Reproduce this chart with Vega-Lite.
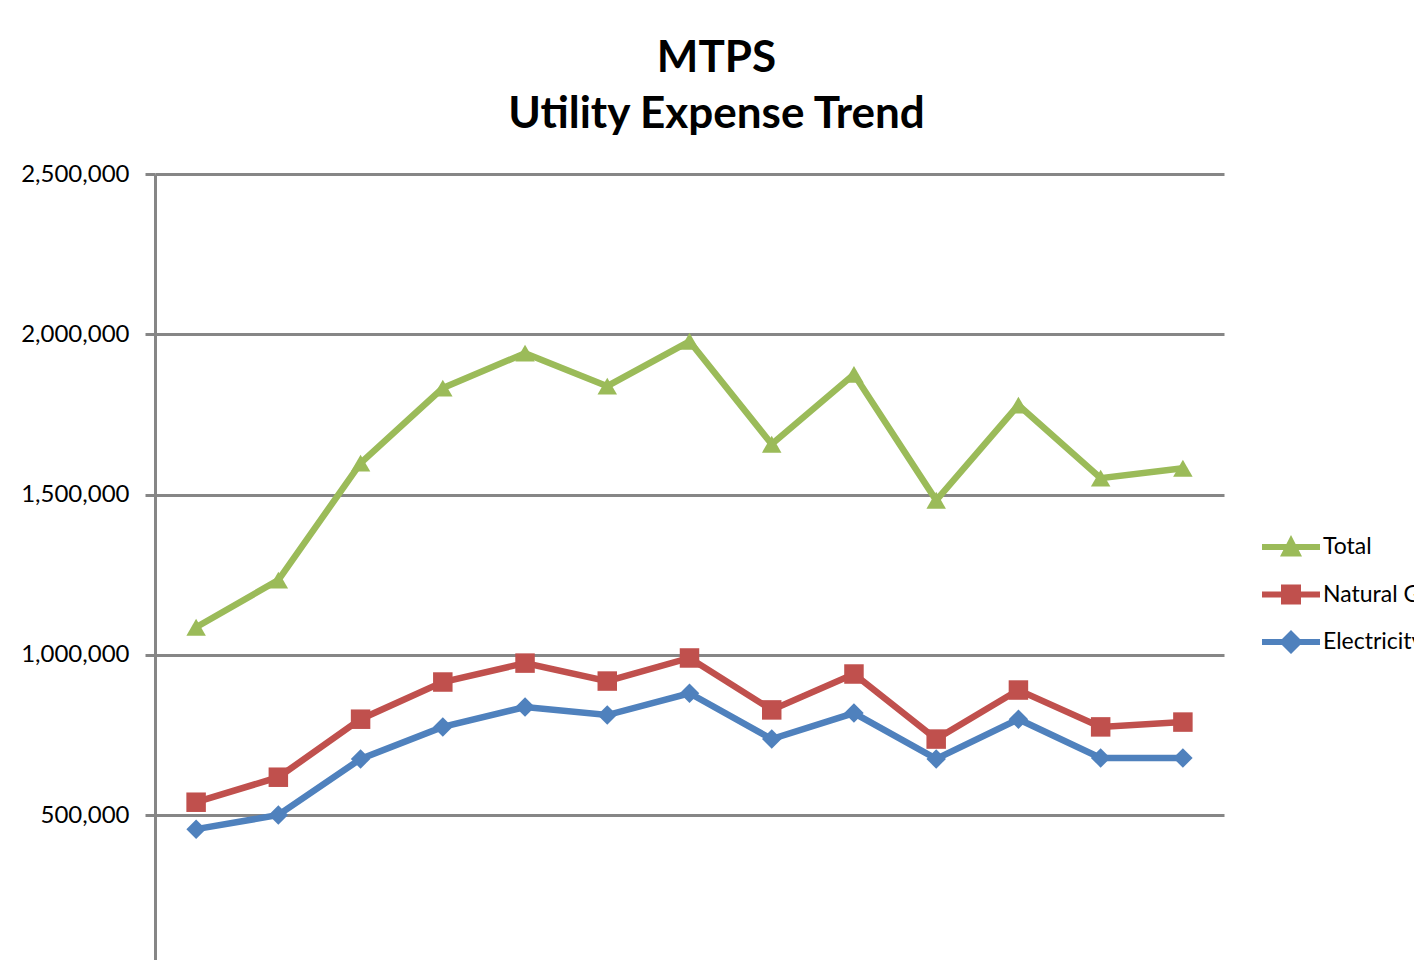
{
  "$schema": "https://vega.github.io/schema/vega-lite/v6.json",
  "autosize": {"type": "none"},
  "width": 1069,
  "height": 786,
  "padding": {"left": 155, "top": 174, "right": 190, "bottom": 0},
  "background": "white",
  "title": {
    "text": ["MTPS", "Utility Expense Trend"],
    "font": "Lato",
    "fontSize": 44,
    "fontWeight": "bold",
    "color": "black",
    "lineHeight": 56,
    "anchor": "middle",
    "dx": 27,
    "offset": 25
  },
  "config": {
    "view": {"stroke": null},
    "axis": {"labelFont": "Lato", "labelFontSize": 24, "labelColor": "black"}
  },
  "data": {
    "values": [
      {"period": 1, "series": "Total", "value": 1086000},
      {"period": 2, "series": "Total", "value": 1233000},
      {"period": 3, "series": "Total", "value": 1598000},
      {"period": 4, "series": "Total", "value": 1832000},
      {"period": 5, "series": "Total", "value": 1941000},
      {"period": 6, "series": "Total", "value": 1838000},
      {"period": 7, "series": "Total", "value": 1978000},
      {"period": 8, "series": "Total", "value": 1657000},
      {"period": 9, "series": "Total", "value": 1875000},
      {"period": 10, "series": "Total", "value": 1482000},
      {"period": 11, "series": "Total", "value": 1779000},
      {"period": 12, "series": "Total", "value": 1551000},
      {"period": 13, "series": "Total", "value": 1582000},
      {"period": 1, "series": "Natural Gas", "value": 540000},
      {"period": 2, "series": "Natural Gas", "value": 618000},
      {"period": 3, "series": "Natural Gas", "value": 799000},
      {"period": 4, "series": "Natural Gas", "value": 915000},
      {"period": 5, "series": "Natural Gas", "value": 974000},
      {"period": 6, "series": "Natural Gas", "value": 918000},
      {"period": 7, "series": "Natural Gas", "value": 990000},
      {"period": 8, "series": "Natural Gas", "value": 828000},
      {"period": 9, "series": "Natural Gas", "value": 940000},
      {"period": 10, "series": "Natural Gas", "value": 737000},
      {"period": 11, "series": "Natural Gas", "value": 890000},
      {"period": 12, "series": "Natural Gas", "value": 775000},
      {"period": 13, "series": "Natural Gas", "value": 790000},
      {"period": 1, "series": "Electricity", "value": 456000},
      {"period": 2, "series": "Electricity", "value": 500000},
      {"period": 3, "series": "Electricity", "value": 675000},
      {"period": 4, "series": "Electricity", "value": 775000},
      {"period": 5, "series": "Electricity", "value": 837000},
      {"period": 6, "series": "Electricity", "value": 812000},
      {"period": 7, "series": "Electricity", "value": 880000},
      {"period": 8, "series": "Electricity", "value": 737000},
      {"period": 9, "series": "Electricity", "value": 818000},
      {"period": 10, "series": "Electricity", "value": 675000},
      {"period": 11, "series": "Electricity", "value": 799000},
      {"period": 12, "series": "Electricity", "value": 678000},
      {"period": 13, "series": "Electricity", "value": 678000}
    ]
  },
  "encoding": {
    "x": {"field": "period", "type": "ordinal", "scale": {"type": "point", "padding": 0.5}, "axis": null},
    "y": {
      "field": "value",
      "type": "quantitative",
      "scale": {"domain": [47730, 2500000], "nice": false, "zero": false},
      "axis": {
        "title": null,
        "values": [500000, 1000000, 1500000, 2000000, 2500000],
        "format": ",d",
        "grid": true,
        "gridColor": "#868686",
        "gridWidth": 3,
        "gridOpacity": 1,
        "domainColor": "#868686",
        "domainWidth": 3,
        "tickColor": "#868686",
        "tickWidth": 3,
        "tickSize": 10,
        "labelPadding": 16
      }
    },
    "color": {
      "field": "series",
      "type": "nominal",
      "scale": {"domain": ["Total", "Natural Gas", "Electricity"], "range": ["#9BBB59", "#C0504D", "#4F81BD"]},
      "legend": {
        "title": null,
        "orient": "none",
        "legendX": 1116,
        "legendY": 353,
        "labelFont": "Lato",
        "labelFontSize": 23,
        "labelColor": "black",
        "labelOffset": 12,
        "labelLimit": 400,
        "rowPadding": 15.5,
        "symbolSize": 1600,
        "symbolStrokeWidth": 0,
        "symbolOpacity": 1,
        "encode": {
          "symbols": {
            "update": {
              "shape": {"signal": "datum.value === 'Total' ? 'M-1.45,-0.15L1.45,-0.15L1.45,0.15L-1.45,0.15Z M0,-0.6L0.55,0.48L-0.55,0.48Z' : datum.value === 'Natural Gas' ? 'M-1.45,-0.15L1.45,-0.15L1.45,0.15L-1.45,0.15Z M-0.5,-0.5L0.5,-0.5L0.5,0.5L-0.5,0.5Z' : 'M-1.45,-0.15L1.45,-0.15L1.45,0.15L-1.45,0.15Z M0,-0.6L0.6,0L0,0.6L-0.6,0Z'"},
              "fill": {"signal": "datum.value === 'Total' ? '#9BBB59' : datum.value === 'Natural Gas' ? '#C0504D' : '#4F81BD'"},
              "opacity": {"value": 1}
            }
          }
        }
      }
    }
  },
  "layer": [
    {
      "mark": {"type": "line", "strokeWidth": 6.5, "clip": true}
    },
    {
      "transform": [{"filter": "datum.series === 'Total'"}],
      "mark": {"type": "point", "filled": true, "opacity": 1, "size": 380, "shape": "triangle-up", "clip": true}
    },
    {
      "transform": [{"filter": "datum.series === 'Natural Gas'"}],
      "mark": {"type": "point", "filled": true, "opacity": 1, "size": 380, "shape": "square", "clip": true}
    },
    {
      "transform": [{"filter": "datum.series === 'Electricity'"}],
      "mark": {"type": "point", "filled": true, "opacity": 1, "size": 380, "shape": "diamond", "clip": true}
    }
  ]
}
